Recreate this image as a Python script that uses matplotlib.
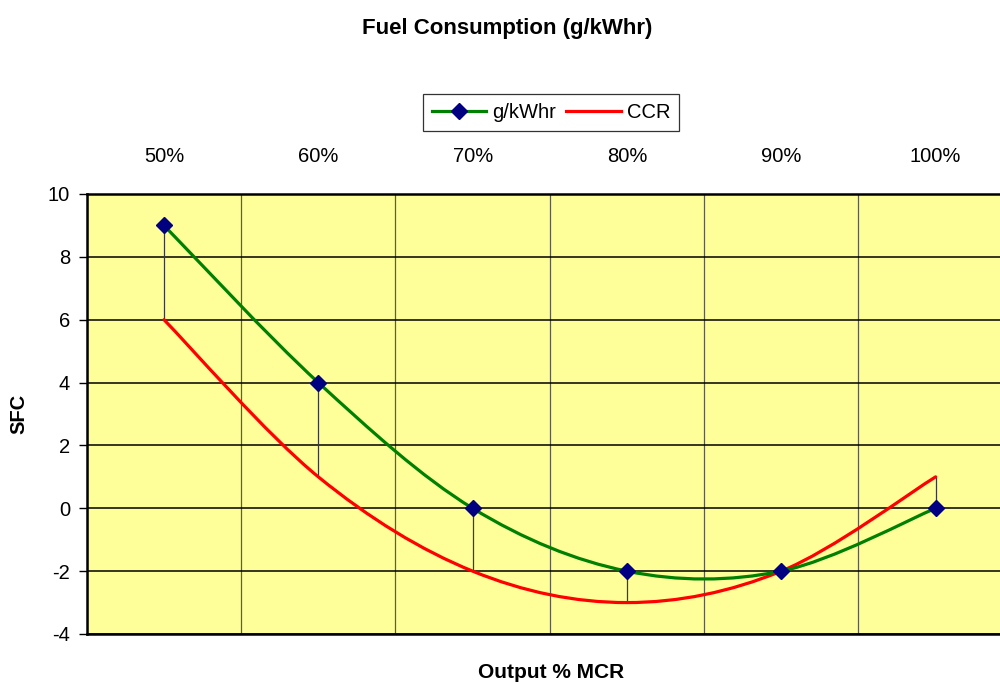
import matplotlib

matplotlib.use("Agg")
import matplotlib.pyplot as plt
import numpy as np
from matplotlib.path import Path
from matplotlib.patches import PathPatch
from matplotlib.lines import Line2D

plt.rcParams["font.family"] = ["Liberation Sans", "DejaVu Sans"]
plt.rcParams["axes.unicode_minus"] = False

# --- data ---
loads = ["50%", "60%", "70%", "80%", "90%", "100%"]
sfc_gkwhr = [9, 4, 0, -2, -2, 0]
sfc_ccr = [6, 1, -2, -3, -2, 1]

GREEN = "#008000"
RED = "#FF0000"
NAVY = "#000080"
PLOT_BG = "#FFFF99"


def smooth_path(xs, ys):
    """Catmull-Rom style cubic bezier through the points (spreadsheet 'smoothed line')."""
    pts = np.column_stack([xs, ys]).astype(float)
    n = len(pts)
    verts = [pts[0]]
    codes = [Path.MOVETO]
    for i in range(n - 1):
        prev_p = pts[i - 1] if i > 0 else pts[i]
        next_p = pts[i + 2] if i + 2 < n else pts[i + 1]
        c1 = pts[i] + (pts[i + 1] - prev_p) / 6.0
        c2 = pts[i + 1] - (next_p - pts[i]) / 6.0
        verts += [c1, c2, pts[i + 1]]
        codes += [Path.CURVE4] * 3
    return Path(verts, codes)


x = np.arange(len(loads))

fig = plt.figure(figsize=(10, 6.84), dpi=100)
ax = fig.add_axes([0.0868, 0.0731, 0.926, 0.6433])
ax.set_facecolor(PLOT_BG)

# high-low lines joining the two series at each load
ax.vlines(x, sfc_ccr, sfc_gkwhr, color="#3a3a3a", lw=0.9, zorder=2)

ax.add_patch(PathPatch(smooth_path(x, sfc_ccr), fill=False, edgecolor=RED,
                       lw=2.3, capstyle="round", joinstyle="round", zorder=3))
ax.add_patch(PathPatch(smooth_path(x, sfc_gkwhr), fill=False, edgecolor=GREEN,
                       lw=2.3, capstyle="round", joinstyle="round", zorder=4))
ax.plot(x, sfc_gkwhr, linestyle="none", marker="D", ms=8.5, color=NAVY, zorder=5)

ax.set_xlim(-0.5, len(loads) - 0.5)
ax.set_ylim(-4, 10)
ax.set_yticks(np.arange(-4, 11, 2))

# category labels along the top, gridlines on category boundaries
ax.xaxis.tick_top()
ax.set_xticks(x)
ax.set_xticklabels(loads, fontsize=14.5)
ax.set_xticks(np.arange(-0.5, len(loads), 1.0), minor=True)
ax.tick_params(axis="x", which="both", length=0, pad=20)
ax.tick_params(axis="y", length=6, width=1, pad=6, labelsize=14.5)

ax.grid(True, axis="x", which="minor", color="#5e5e48", lw=0.9)
ax.grid(True, axis="y", which="major", color="black", lw=1.1)
ax.grid(False, axis="x", which="major")
ax.set_axisbelow(True)

for side in ["left", "top", "bottom"]:
    ax.spines[side].set_linewidth(1.8)
ax.spines["right"].set_visible(False)

ax.set_ylabel("SFC", fontsize=14.5, fontweight="bold", labelpad=14)
fig.text(0.551, 0.017, "Output % MCR", ha="center", va="center",
         fontsize=15, fontweight="bold")
fig.text(0.507, 0.959, "Fuel Consumption (g/kWhr)", ha="center", va="center",
         fontsize=16, fontweight="bold")

handles = [
    Line2D([], [], color=GREEN, lw=2.3, marker="D", ms=8.5,
           markerfacecolor=NAVY, markeredgecolor=NAVY),
    Line2D([], [], color=RED, lw=2.3),
]
leg = fig.legend(handles, ["g/kWhr", "CCR"], loc="center",
                 bbox_to_anchor=(0.551, 0.836), ncol=2, fontsize=14.5,
                 frameon=True, fancybox=False, borderpad=0.45,
                 handlelength=2.7, handletextpad=0.3, columnspacing=0.5)
leg.get_frame().set_edgecolor("black")
leg.get_frame().set_linewidth(0.9)

fig.savefig("out.png", dpi=100)
